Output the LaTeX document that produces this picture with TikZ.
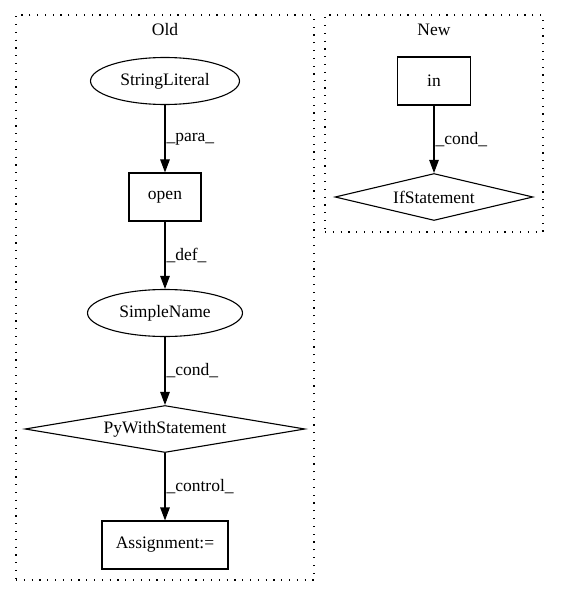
\documentclass[tikz,border=0pt]{standalone}
\usepackage{fontspec}
\setmainfont{Liberation Serif}
\usetikzlibrary{arrows.meta,shapes.geometric,positioning}

\begin{document}
\begin{tikzpicture}[x=1pt, y=-1pt,
    every node/.style={font=\fontsize{17.5}{21}\selectfont, inner sep=0pt},
    box/.style={draw, line width=1.1pt, rectangle, minimum height=48pt},
    oval/.style={draw, line width=1.1pt, ellipse, minimum height=47pt},
    test/.style={draw, line width=1.1pt, diamond, minimum height=47pt},
    cluster/.style={draw, line width=1.2pt, dash pattern=on 1.2pt off 6.6pt},
    flow/.style={-{Triangle[length=13pt, width=9.5pt]}, line width=1.1pt},
    elabel/.style={right, inner sep=1pt}]
    \useasboundingbox (0,0) rectangle (560,596);

    % Clusters for Old and New
    \node[cluster, minimum width=298pt, minimum height=565pt] (old) at (165,297.5) {};
    \node (oldtitle) at (165,30) {Old};
    \node[cluster, minimum width=218pt, minimum height=217pt] (new) at (434,123.5) {};
    \node (newtitle) at (434,30) {New};

    % Nodes of the old version
    \node[oval, minimum width=149pt] (strlit) at (165,81) {StringLiteral};
    \node[box, minimum width=72pt] (open) at (165,197) {open};
    \node[oval, minimum width=155pt] (simplename) at (165,313) {SimpleName};
    \node[test, minimum width=280pt, aspect=6] (withstmt) at (165,429) {PyWithStatement};
    \node[box, minimum width=126pt] (assign) at (165,545) {Assignment:=};

    % Nodes of the new version
    \node[box, minimum width=73pt] (in) at (434,81) {in};
    \node[test, minimum width=198pt, aspect=4] (ifstmt) at (434,197) {IfStatement};

    % Edges
    \draw[flow] (strlit) -- node[elabel] {\_para\_} (open);
    \draw[flow] (open) -- node[elabel] {\_def\_} (simplename);
    \draw[flow] (simplename) -- node[elabel] {\_cond\_} (withstmt);
    \draw[flow] (withstmt) -- node[elabel] {\_control\_} (assign);
    \draw[flow] (in) -- node[elabel] {\_cond\_} (ifstmt);
\end{tikzpicture}
\end{document}
